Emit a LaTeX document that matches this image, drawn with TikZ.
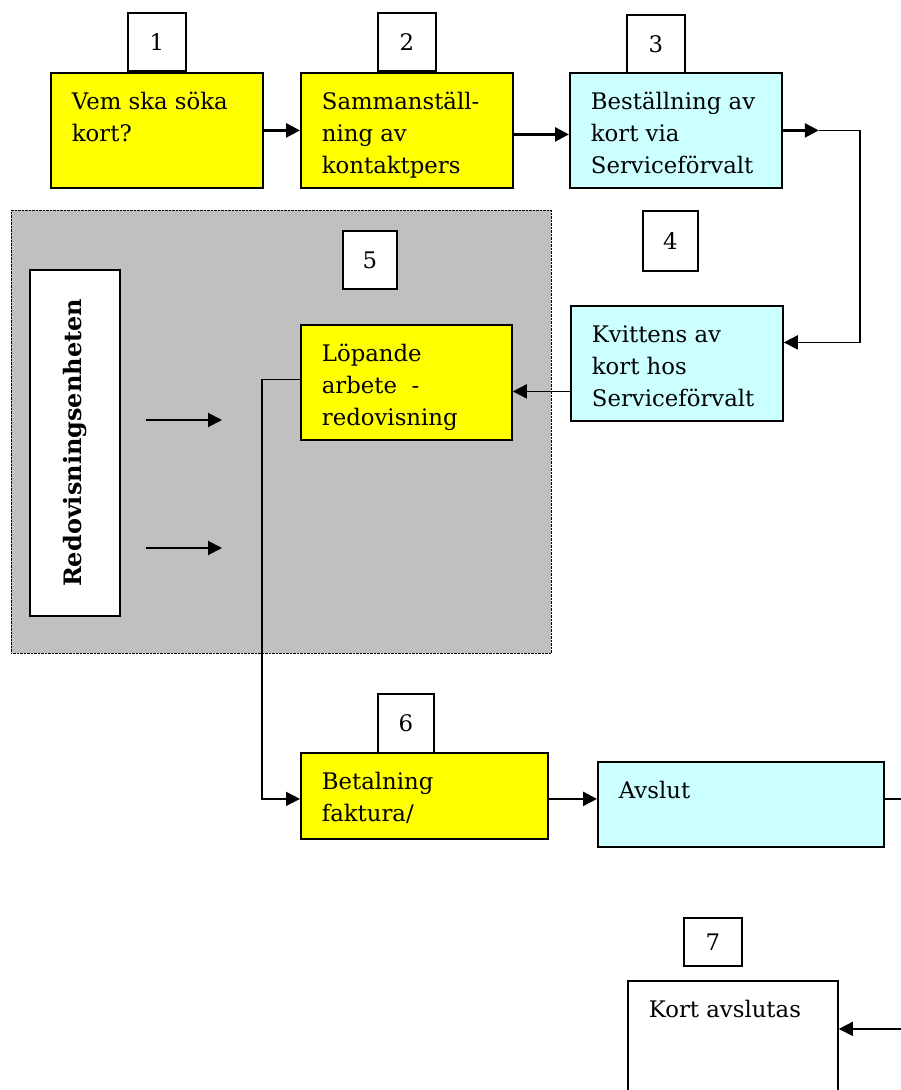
\documentclass[tikz,border=0pt]{standalone}
\usepackage{fontspec}
\setmainfont{DejaVu Serif}
\usepackage{graphicx}
\usetikzlibrary{positioning,arrows.meta}

\definecolor{boxyellow}{HTML}{FFFF00}
\definecolor{boxcyan}{HTML}{CCFFFF}
\definecolor{unitgray}{HTML}{C0C0C0}
\newcommand{\boxtext}[3]{\parbox[c][#2][t]{#1}{\raggedright\leftskip=21pt\rule{0pt}{37pt}#3}}

\begin{document}
\begin{tikzpicture}[>={Triangle[length=14pt,width=14pt]},x=1pt,y=-1pt,
    font=\fontsize{22.8}{32}\selectfont,
    proc/.style={draw,line width=1.8pt,inner sep=0pt,anchor=north west},
    numbox/.style={draw,fill=white,line width=1.8pt,inner sep=0pt,anchor=north west},
    flow/.style={->,line width=2.6pt},
    thinflow/.style={->,line width=1.8pt}]
  \useasboundingbox (0,0) rectangle (901,1090);
  \clip (0,0) rectangle (901,1090);

  % redovisningsenheten
  \node[draw,densely dotted,fill=unitgray,inner sep=0pt,anchor=north west,
    minimum width=540pt,minimum height=443pt] (unit) at (11,210) {};
  \node[numbox,minimum width=54pt,minimum height=58pt] (num5) at (342,230) {5};
  \node[proc,fill=white,minimum width=90pt,minimum height=346pt] (redov) at (29,269)
    {\rotatebox{90}{\fontsize{24}{30}\selectfont\bfseries Redovisningsenheten}};
  \coordinate (in1) at (146,420);
  \coordinate (in1e) at (222,420);
  \coordinate (in2) at (146,548);
  \coordinate (in2e) at (222,548);
  \draw[thinflow,line width=2pt] (in1) -- (in1e);
  \draw[thinflow,line width=2pt] (in2) -- (in2e);

  % upper row
  \node[proc,fill=boxyellow] (vem) at (50,72) {\boxtext{212pt}{115pt}{Vem ska söka\\kort?}};
  \node[proc,fill=boxyellow] (samman) at (300,72) {\boxtext{212pt}{115pt}{Sammanställ-\\ning av\\kontaktpers}};
  \node[proc,fill=boxcyan] (bestall) at (569,72) {\boxtext{212pt}{115pt}{Beställning av\\kort via\\Serviceförvalt}};
  \node[numbox,minimum width=58pt,minimum height=58pt,above=0pt of vem] (num1) {1};
  \node[numbox,minimum width=58pt,minimum height=58pt,above=0pt of samman] (num2) {2};
  \node[numbox,minimum width=58pt,minimum height=58pt] (num3) at (626,14) {3};
  \node[numbox,minimum width=55pt,minimum height=60pt] (num4) at (642,210) {4};
  \node[proc,fill=boxcyan] (kvitt) at (570,305) {\boxtext{212pt}{115pt}{Kvittens av\\kort hos\\Serviceförvalt}};
  \node[proc,fill=boxyellow] (lop) at (300,324) {\boxtext{211pt}{115pt}{Löpande\\arbete\ \ -\\redovisning}};

  % lower part
  \node[numbox,minimum width=56pt,minimum height=59pt] (num6) at (377,693) {6};
  \node[proc,fill=boxyellow] (betal) at (300,752) {\boxtext{247pt}{86pt}{Betalning\\faktura/}};
  \node[proc,fill=boxcyan] (avslut) at (597,761) {\boxtext{286pt}{85pt}{Avslut}};
  \node[numbox,minimum width=58pt,minimum height=48pt] (num7) at (683,917) {7};
  \node[proc,fill=white] (kort) at (627,980) {\boxtext{210pt}{130pt}{Kort avslutas}};

  \coordinate (turn) at ([xshift=36pt]bestall.east);
  \draw[flow] (vem) -- (samman);
  \draw[flow] ([yshift=-4pt]samman.east) -- ([yshift=-4pt]bestall.west);
  \draw[flow] (bestall.east) -- (turn);
  \draw[thinflow] (turn) -- ++(41,0) |- ([yshift=21pt]kvitt.east);
  \draw[thinflow] ([yshift=-28pt]kvitt.west) -- ([yshift=-9pt]lop.east);
  \draw[thinflow] ([yshift=3pt]lop.west) -- ++(-38,0) |- ([yshift=-3pt]betal.west);
  \draw[flow] ([yshift=-3pt]betal.east) -- ([yshift=5.5pt]avslut.west);
  \draw[thinflow] ([yshift=5.5pt]avslut.east) -- ++(60,0) |- ([yshift=17pt]kort.east);
\end{tikzpicture}
\end{document}
